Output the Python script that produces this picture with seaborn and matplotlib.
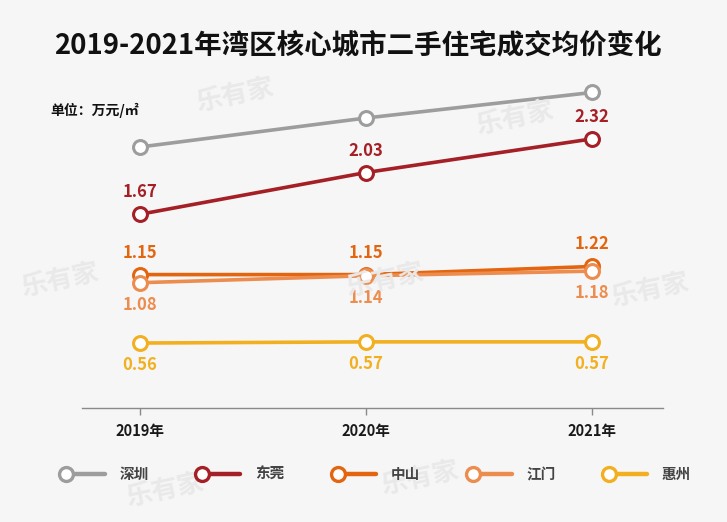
import matplotlib
matplotlib.use("Agg")
import matplotlib.pyplot as plt
import seaborn as sns
import pandas as pd
from matplotlib.lines import Line2D
from matplotlib.legend_handler import HandlerBase

# ---- data ----
years = [2019, 2020, 2021]
year_labels = ["2019年", "2020年", "2021年"]
cities = ["深圳", "东莞", "中山", "江门", "惠州"]
shenzhen = [2.25, 2.50, 2.72]   # no labels in the reference; read from position
dongguan = [1.67, 2.03, 2.32]
zhongshan = [1.15, 1.15, 1.22]
jiangmen = [1.08, 1.14, 1.18]
huizhou = [0.56, 0.57, 0.57]
colors = ["#9d9d9d", "#a51f26", "#e3650f", "#ec8c4f", "#f2b021"]
label_pos = [None, "above", "above", "below", "below"]

series = [shenzhen, dongguan, zhongshan, jiangmen, huizhou]
df = pd.DataFrame({
    "year": [y for s in series for y in years],
    "value": [v for s in series for v in s],
    "city": [c for c, s in zip(cities, series) for _ in s],
})

sns.set_theme(style="white")
plt.rcParams["font.family"] = ["Noto Sans CJK SC", "DejaVu Sans"]
plt.rcParams["font.weight"] = "bold"

bg = "#f6f6f6"
fig = plt.figure(figsize=(7.27, 5.22), dpi=100, facecolor=bg)
ax = fig.add_axes([82/727, 1-408/522, (663-82)/727, (408-70)/522])
ax.set_facecolor("none")

# faint watermarks
for (wx, wy) in [(235, 95), (515, 118), (60, 280), (385, 280), (650, 290), (165, 490), (420, 478)]:
    fig.text(wx/727, 1-wy/522, "乐有家", fontsize=19, color="#e9e9e9", rotation=12,
             ha="center", va="center", fontweight="bold", zorder=0)

sns.lineplot(data=df, x="year", y="value", hue="city", palette=colors, hue_order=cities,
             marker="o", markersize=10, markerfacecolor="white", markeredgewidth=2.2,
             linewidth=2.6, legend=False, ax=ax, zorder=3)
for line, c in zip(ax.get_lines(), colors):
    line.set_markeredgecolor(c)

for vals, c, pos in zip(series, colors, label_pos):
    if pos is None:
        continue
    dy = 22 if pos == "above" else -22
    for x, v in zip(years, vals):
        ax.annotate(f"{v:.2f}", (x, v), xytext=(0, dy), textcoords="offset pixels",
                    ha="center", va="center", fontsize=12, fontweight="bold", color=c)

ax.set_xlim(2019 - 58/226, 2021 + 71/226)
ax.set_ylim(0, 338/116)
ax.set_xticks(years)
ax.set_xticklabels(year_labels, fontsize=10.5, fontweight="bold", color="#1a1a1a")
ax.set_yticks([])
ax.set_xlabel("")
ax.set_ylabel("")
for s in ["top", "right", "left"]:
    ax.spines[s].set_visible(False)
ax.spines["bottom"].set_color("#8a8a8a")
ax.spines["bottom"].set_linewidth(1.0)
ax.tick_params(axis="x", bottom=True, direction="out", length=5, width=1,
               color="#8a8a8a", pad=6)

fig.text(358/727, 1-45/522, "2019-2021年湾区核心城市二手住宅成交均价变化",
         ha="center", va="center", fontsize=19.8, fontweight="bold", color="#111111")
fig.text(50/727, 1-110/522, "单位：万元/㎡", ha="left", va="center",
         fontsize=10, fontweight="bold", color="#111111")


class MarkerFirstHandler(HandlerBase):
    def create_artists(self, legend, orig, xd, yd, w, h, fs, trans):
        y = h/2 - yd
        x0 = -xd
        c = orig.get_color()
        ln = Line2D([x0 + 4, x0 + w], [y, y], color=c, lw=orig.get_linewidth(), transform=trans)
        mk = Line2D([x0 + 4], [y], marker="o", markersize=orig.get_markersize(),
                    markerfacecolor="white", markeredgecolor=c,
                    markeredgewidth=orig.get_markeredgewidth(), linestyle="none", transform=trans)
        return [ln, mk]


handles = [Line2D([], [], color=c, lw=3.2, marker="o", markersize=10,
                  markeredgewidth=2.4) for c in colors]
leg = fig.legend(handles, cities, loc="center", bbox_to_anchor=(376/727, 1-474/522), ncol=5,
                 frameon=False, handlelength=3.0, handletextpad=1.0, columnspacing=3.3,
                 handler_map={Line2D: MarkerFirstHandler()},
                 prop={"size": 10.5, "weight": "bold"})
for t in leg.get_texts():
    t.set_color("#444444")

fig.savefig("out.png", dpi=100, facecolor=bg)
